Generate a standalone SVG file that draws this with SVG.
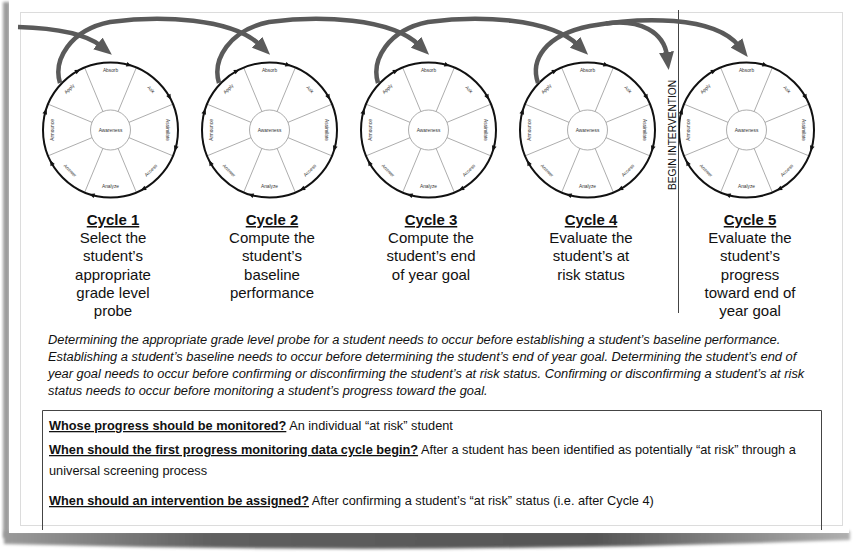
<svg xmlns="http://www.w3.org/2000/svg" width="854" height="552" viewBox="0 0 854 552">
<defs>
<style>
 text{font-family:"Liberation Sans",Arial,Helvetica,sans-serif;fill:#111}
 .rim{fill:none;stroke:#111;stroke-width:2}
 .hub,.spoke{fill:none;stroke:#8a8a8a;stroke-width:.7}
 .lbl{font-size:4.8px;fill:#333;text-anchor:middle;dominant-baseline:central}
 .cap{font-size:15px;text-anchor:middle}
 .hd{font-weight:bold;text-decoration:underline}
 .flow{fill:none;stroke:#5a5a5a;stroke-width:4.5;marker-end:url(#head)}
 .note{font-size:12.85px;font-style:italic}
 .qa{font-size:12.75px}
 .q{font-weight:bold;text-decoration:underline}
</style>
<marker id="head" viewBox="0 0 18 15" refX="4" refY="7.5" markerWidth="18" markerHeight="15" markerUnits="userSpaceOnUse" orient="auto">
 <path d="M0,0 L18,7.5 L0,15 Z" fill="#5a5a5a"/>
</marker>
<path id="tick" d="M0.5,0 L-5,-2.4 L-5,2.4 Z" fill="#111"/>
<!-- one data cycle wheel, centred on the origin -->
<g id="wheel">
 <circle class="hub" r="20"/>
 <path class="spoke" d="M7.65-18.48L25.83-62.36M18.48-7.65L62.36-25.83M18.48 7.65L62.36 25.83M7.65 18.48L25.83 62.36M-7.65 18.48L-25.83 62.36M-18.48 7.65L-62.36 25.83M-18.48-7.65L-62.36-25.83M-7.65-18.48L-25.83-62.36"/>
 <circle class="rim" r="67.5"/>
 <use href="#tick" transform="rotate(18) translate(0,-67.5)"/>
 <use href="#tick" transform="rotate(63) translate(0,-67.5)"/>
 <use href="#tick" transform="rotate(108) translate(0,-67.5)"/>
 <use href="#tick" transform="rotate(153) translate(0,-67.5)"/>
 <use href="#tick" transform="rotate(198) translate(0,-67.5)"/>
 <use href="#tick" transform="rotate(243) translate(0,-67.5)"/>
 <use href="#tick" transform="rotate(288) translate(0,-67.5)"/>
 <use href="#tick" transform="rotate(333) translate(0,-67.5)"/>
 <text class="lbl" x="0" y="0">Awareness</text>
 <text class="lbl" x="0" y="-60">Absorb</text>
 <text class="lbl" transform="translate(40.5,-40.5) rotate(45)">Ask</text>
 <text class="lbl" transform="translate(57,0) rotate(90)">Assimilate</text>
 <text class="lbl" transform="translate(40.5,40.5) rotate(-45)">Access</text>
 <text class="lbl" x="0" y="56">Analyze</text>
 <text class="lbl" transform="translate(-40.5,40.5) rotate(45)">Answer</text>
 <text class="lbl" transform="translate(-58,0) rotate(-90)">Announce</text>
 <text class="lbl" transform="translate(-41,-41) rotate(-45)">Apply</text>
</g>
<filter id="soft" x="-20%" y="-20%" width="140%" height="140%"><feGaussianBlur stdDeviation="1.6"/></filter>
<linearGradient id="curl" x1="0" x2="1" y1="0" y2="0">
 <stop offset="0" stop-color="#9a9a9a"/>
 <stop offset="0.25" stop-color="#5e5e5e"/>
 <stop offset="0.7" stop-color="#555"/>
 <stop offset="1" stop-color="#b0b0b0"/>
</linearGradient>
</defs>

<!-- sheet with its shadow -->
<rect width="854" height="552" fill="#fff"/>
<rect x="3" y="2" width="7" height="536" fill="#9c9c9c" filter="url(#soft)"/>
<path d="M4,531 L850,531 L850,540 Q430,555 4,544 Z" fill="url(#curl)" filter="url(#soft)"/>
<rect x="9" y="0" width="840" height="533" fill="#fff"/>
<rect x="20.5" y="12.5" width="822" height="513" fill="none" stroke="#dcdcdc"/>

<!-- cycles -->
<g id="cycle1">
 <use href="#wheel" transform="translate(110.5,130)"/>
 <text class="cap" x="113" y="225"><tspan class="hd">Cycle 1</tspan><tspan x="113" dy="18.2">Select the</tspan><tspan x="113" dy="18.2">student’s</tspan><tspan x="113" dy="18.2">appropriate</tspan><tspan x="113" dy="18.2">grade level</tspan><tspan x="113" dy="18.2">probe</tspan></text>
</g>
<g id="cycle2">
 <use href="#wheel" transform="translate(269.5,130)"/>
 <text class="cap" x="272" y="225"><tspan class="hd">Cycle 2</tspan><tspan x="272" dy="18.2">Compute the</tspan><tspan x="272" dy="18.2">student’s</tspan><tspan x="272" dy="18.2">baseline</tspan><tspan x="272" dy="18.2">performance</tspan></text>
</g>
<g id="cycle3">
 <use href="#wheel" transform="translate(428.5,130)"/>
 <text class="cap" x="431" y="225"><tspan class="hd">Cycle 3</tspan><tspan x="431" dy="18.2">Compute the</tspan><tspan x="431" dy="18.2">student’s end</tspan><tspan x="431" dy="18.2">of year goal</tspan></text>
</g>
<g id="cycle4">
 <use href="#wheel" transform="translate(587.5,130)"/>
 <text class="cap" x="591" y="225"><tspan class="hd">Cycle 4</tspan><tspan x="591" dy="18.2">Evaluate the</tspan><tspan x="591" dy="18.2">student’s at</tspan><tspan x="591" dy="18.2">risk status</tspan></text>
</g>
<g id="cycle5">
 <use href="#wheel" transform="translate(746.5,130)"/>
 <text class="cap" x="750" y="225"><tspan class="hd">Cycle 5</tspan><tspan x="750" dy="18.2">Evaluate the</tspan><tspan x="750" dy="18.2">student’s</tspan><tspan x="750" dy="18.2">progress</tspan><tspan x="750" dy="18.2">toward end of</tspan><tspan x="750" dy="18.2">year goal</tspan></text>
</g>

<!-- intervention marker -->
<g id="intervention">
 <line x1="678.5" y1="10" x2="678.5" y2="313" stroke="#444" stroke-width="1"/>
 <text transform="translate(675.5,135) rotate(-90)" font-size="10.2" text-anchor="middle">BEGIN INTERVENTION</text>
</g>

<!-- cycle-to-cycle flow -->
<g id="connectors">
 <path class="flow" d="M18,27 C50,28 85,33 101,46"/>
 <path class="flow" d="M60,83 C53,60 70,30 110,22 C160,15 232,18 260,45"/>
 <path class="flow" transform="translate(159,0)" d="M60,83 C53,60 70,30 110,22 C160,15 232,18 260,45"/>
 <path class="flow" transform="translate(318,0)" d="M60,83 C53,60 70,30 110,22 C160,15 232,18 260,45"/>
 <path class="flow" d="M538,83 C530,60 545,35 590,26 C640,17 714,15 739,46"/>
 <path class="flow" d="M606,23.5 C640,19 664,32 667,56"/>
</g>

<!-- ordering note -->
<g id="note">
 <text class="note" x="48" y="344">Determining the appropriate grade level probe for a student needs to occur before establishing a student’s baseline performance.</text>
 <text class="note" x="48" y="361">Establishing a student’s baseline needs to occur before determining the student’s end of year goal. Determining the student’s end of</text>
 <text class="note" x="48" y="378">year goal needs to occur before confirming or disconfirming the student’s at risk status. Confirming or disconfirming a student’s at risk</text>
 <text class="note" x="48" y="394.5">status needs to occur before monitoring a student’s progress toward the goal.</text>
</g>

<!-- questions box -->
<g id="questions">
 <path d="M42.5,530 V410.5 H821.5 V530" fill="none" stroke="#444" stroke-width="1"/>
 <text class="qa" x="49" y="430"><tspan class="q">Whose progress should be monitored?</tspan> An individual “at risk” student</text>
 <text class="qa" x="49" y="454"><tspan class="q">When should the first progress monitoring data cycle begin?</tspan> After a student has been identified as potentially “at risk” through a</text>
 <text class="qa" x="49" y="474.5">universal screening process</text>
 <text class="qa" x="49" y="505"><tspan class="q">When should an intervention be assigned?</tspan> After confirming a student’s “at risk” status (i.e. after Cycle 4)</text>
</g>
</svg>
